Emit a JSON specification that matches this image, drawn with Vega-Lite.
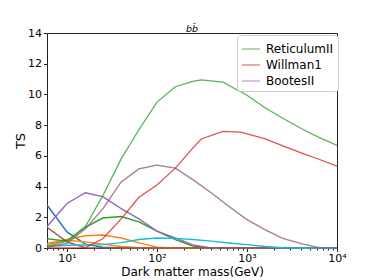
{
  "$schema": "https://vega.github.io/schema/vega-lite/v6.json",
  "autosize": {"type": "none"},
  "padding": {"left": 47, "top": 33, "right": 37, "bottom": 32},
  "width": 290,
  "height": 215,
  "title": {"text": "bb̄", "fontStyle": "italic", "fontWeight": "normal", "fontSize": 9.5, "font": "DejaVu Sans", "frame": "group", "offset": -2, "dy": 4, "color": "#000"},
  "datasets": {
    "curves": [
      {"s":"ReticulumII","m":6,"ts":0.1},{"s":"ReticulumII","m":10,"ts":0.45},{"s":"ReticulumII","m":16,"ts":1.4},{"s":"ReticulumII","m":25,"ts":3.4},{"s":"ReticulumII","m":40,"ts":5.8},{"s":"ReticulumII","m":63,"ts":7.7},{"s":"ReticulumII","m":100,"ts":9.5},{"s":"ReticulumII","m":160,"ts":10.5},{"s":"ReticulumII","m":250,"ts":10.85},{"s":"ReticulumII","m":310,"ts":10.95},{"s":"ReticulumII","m":540,"ts":10.8},{"s":"ReticulumII","m":1000,"ts":9.95},{"s":"ReticulumII","m":1600,"ts":9.12},{"s":"ReticulumII","m":2500,"ts":8.45},{"s":"ReticulumII","m":4000,"ts":7.78},{"s":"ReticulumII","m":6300,"ts":7.2},{"s":"ReticulumII","m":10000,"ts":6.68},
      {"s":"Willman1","m":6,"ts":0},{"s":"Willman1","m":10,"ts":0},{"s":"Willman1","m":16,"ts":0.02},{"s":"Willman1","m":25,"ts":0.6},{"s":"Willman1","m":40,"ts":1.9},{"s":"Willman1","m":63,"ts":3.3},{"s":"Willman1","m":100,"ts":4.1},{"s":"Willman1","m":160,"ts":5.2},{"s":"Willman1","m":250,"ts":6.5},{"s":"Willman1","m":310,"ts":7.1},{"s":"Willman1","m":540,"ts":7.6},{"s":"Willman1","m":850,"ts":7.55},{"s":"Willman1","m":1600,"ts":7.1},{"s":"Willman1","m":2500,"ts":6.65},{"s":"Willman1","m":4000,"ts":6.2},{"s":"Willman1","m":6300,"ts":5.78},{"s":"Willman1","m":10000,"ts":5.33},
      {"s":"BootesII","m":6,"ts":0.05},{"s":"BootesII","m":10,"ts":0.3},{"s":"BootesII","m":16,"ts":1.25},{"s":"BootesII","m":25,"ts":2.55},{"s":"BootesII","m":40,"ts":4.3},{"s":"BootesII","m":63,"ts":5.15},{"s":"BootesII","m":100,"ts":5.4},{"s":"BootesII","m":160,"ts":5.2},{"s":"BootesII","m":250,"ts":4.45},{"s":"BootesII","m":400,"ts":3.6},{"s":"BootesII","m":630,"ts":2.7},{"s":"BootesII","m":1000,"ts":1.85},{"s":"BootesII","m":1600,"ts":1.18},{"s":"BootesII","m":2500,"ts":0.63},{"s":"BootesII","m":4000,"ts":0.29},{"s":"BootesII","m":6300,"ts":0.02},{"s":"BootesII","m":10000,"ts":0},
      {"s":"B2","m":6,"ts":0.05},{"s":"B2","m":10,"ts":0.3},{"s":"B2","m":16,"ts":1.25},{"s":"B2","m":25,"ts":2.55},{"s":"B2","m":40,"ts":4.3},{"s":"B2","m":63,"ts":5.15},{"s":"B2","m":100,"ts":5.4},{"s":"B2","m":160,"ts":5.2},{"s":"B2","m":250,"ts":4.45},{"s":"B2","m":400,"ts":3.6},{"s":"B2","m":630,"ts":2.7},{"s":"B2","m":1000,"ts":1.85},{"s":"B2","m":1600,"ts":1.18},{"s":"B2","m":2500,"ts":0.63},{"s":"B2","m":4000,"ts":0.29},{"s":"B2","m":6300,"ts":0.02},{"s":"B2","m":10000,"ts":0},
      {"s":"blue","m":6,"ts":2.8},{"s":"blue","m":10,"ts":1.05},{"s":"blue","m":16,"ts":0.25},{"s":"blue","m":25,"ts":0.05},{"s":"blue","m":40,"ts":0},{"s":"blue","m":100,"ts":0},{"s":"blue","m":1000,"ts":0},{"s":"blue","m":10000,"ts":0},
      {"s":"orange1","m":6,"ts":0.3},{"s":"orange1","m":10,"ts":0.55},{"s":"orange1","m":16,"ts":0.8},{"s":"orange1","m":25,"ts":0.85},{"s":"orange1","m":40,"ts":0.65},{"s":"orange1","m":63,"ts":0.33},{"s":"orange1","m":100,"ts":0.06},{"s":"orange1","m":160,"ts":0},{"s":"orange1","m":1000,"ts":0},{"s":"orange1","m":10000,"ts":0},
      {"s":"orange2","m":6,"ts":0.22},{"s":"orange2","m":10,"ts":0.5},{"s":"orange2","m":16,"ts":0.4},{"s":"orange2","m":25,"ts":0.25},{"s":"orange2","m":40,"ts":0.1},{"s":"orange2","m":63,"ts":0.02},{"s":"orange2","m":100,"ts":0},{"s":"orange2","m":1000,"ts":0},{"s":"orange2","m":10000,"ts":0},
      {"s":"green2","m":6,"ts":0.6},{"s":"green2","m":10,"ts":0.45},{"s":"green2","m":16,"ts":1.35},{"s":"green2","m":25,"ts":1.95},{"s":"green2","m":40,"ts":2.05},{"s":"green2","m":63,"ts":1.7},{"s":"green2","m":100,"ts":1.1},{"s":"green2","m":160,"ts":0.55},{"s":"green2","m":250,"ts":0.12},{"s":"green2","m":400,"ts":0},{"s":"green2","m":1000,"ts":0},{"s":"green2","m":10000,"ts":0},
      {"s":"purple2","m":6,"ts":1.4},{"s":"purple2","m":10,"ts":2.9},{"s":"purple2","m":16,"ts":3.6},{"s":"purple2","m":25,"ts":3.35},{"s":"purple2","m":40,"ts":2.57},{"s":"purple2","m":63,"ts":1.9},{"s":"purple2","m":100,"ts":1.1},{"s":"purple2","m":160,"ts":0.65},{"s":"purple2","m":250,"ts":0.2},{"s":"purple2","m":400,"ts":0},{"s":"purple2","m":1000,"ts":0},{"s":"purple2","m":10000,"ts":0},
      {"s":"brown","m":6,"ts":1.35},{"s":"brown","m":10,"ts":0.4},{"s":"brown","m":16,"ts":0.02},{"s":"brown","m":25,"ts":0},{"s":"brown","m":100,"ts":0},{"s":"brown","m":1000,"ts":0},{"s":"brown","m":10000,"ts":0},
      {"s":"cyan","m":6,"ts":0.1},{"s":"cyan","m":10,"ts":0.18},{"s":"cyan","m":16,"ts":0.2},{"s":"cyan","m":25,"ts":0.22},{"s":"cyan","m":40,"ts":0.35},{"s":"cyan","m":63,"ts":0.55},{"s":"cyan","m":100,"ts":0.65},{"s":"cyan","m":160,"ts":0.63},{"s":"cyan","m":250,"ts":0.55},{"s":"cyan","m":400,"ts":0.45},{"s":"cyan","m":630,"ts":0.33},{"s":"cyan","m":1000,"ts":0.22},{"s":"cyan","m":1600,"ts":0.1},{"s":"cyan","m":2500,"ts":0.02},{"s":"cyan","m":4000,"ts":0},{"s":"cyan","m":10000,"ts":0}
    ]
  },
  "data": {"name": "curves"},
  "encoding": {
    "x": {
      "field": "m", "type": "quantitative",
      "scale": {"type": "log", "domain": [6, 10000], "nice": false},
      "axis": {
        "title": "Dark matter mass(GeV)",
        "values": [6,7,8,9,10,20,30,40,50,60,70,80,90,100,200,300,400,500,600,700,800,900,1000,2000,3000,4000,5000,6000,7000,8000,9000,10000],
        "labelExpr": "datum.value == 10 ? '10¹' : datum.value == 100 ? '10²' : datum.value == 1000 ? '10³' : datum.value == 10000 ? '10⁴' : ''",
        "tickSize": {"condition": {"test": "datum.value == 10 || datum.value == 100 || datum.value == 1000 || datum.value == 10000", "value": 3.5}, "value": 2},
        "labelFontSize": 11, "titleFontSize": 12, "labelPadding": 1, "titlePadding": 3,
        "grid": false, "domain": false, "labelFlush": false, "labelOverlap": false
      }
    },
    "y": {
      "field": "ts", "type": "quantitative",
      "scale": {"domain": [0, 14], "nice": false, "zero": true},
      "axis": {
        "title": "TS", "values": [0,2,4,6,8,10,12,14], "tickSize": 3.5,
        "labelFontSize": 11, "titleFontSize": 13, "labelPadding": 2, "titlePadding": 0,
        "grid": false, "domain": false
      }
    },
    "color": {
      "field": "s", "type": "nominal",
      "scale": {
        "domain": ["ReticulumII","Willman1","BootesII","B2","blue","orange1","orange2","green2","purple2","brown","cyan"],
        "range": ["#2ca02c","#d62728","#9467bd","#8c564b","#1f77b4","#ff7f0e","#ff7f0e","#2ca02c","#9467bd","#8c564b","#17becf"]
      },
      "legend": {
        "values": ["ReticulumII","Willman1","BootesII"],
        "title": null, "orient": "none", "legendX": 190, "legendY": 2,
        "symbolType": "stroke", "symbolSize": 324, "symbolStrokeWidth": 1.3, "symbolOpacity": 0.6,
        "labelFontSize": 12, "labelOffset": 5, "padding": 4, "rowPadding": -2.7,
        "fillColor": "white", "strokeColor": "#cccccc", "cornerRadius": 3
      }
    }
  },
  "layer": [
    {
      "transform": [{"filter": "indexof(['ReticulumII','Willman1','BootesII','B2'], datum.s) < 0"}],
      "mark": {"type": "line", "strokeWidth": 1.4}
    },
    {
      "transform": [{"filter": "datum.s == 'B2' || datum.s == 'BootesII'"}],
      "mark": {"type": "line", "strokeWidth": 1.3, "opacity": 0.5}
    },
    {
      "transform": [{"filter": "datum.s == 'ReticulumII' || datum.s == 'Willman1'"}],
      "mark": {"type": "line", "strokeWidth": 1.3, "opacity": 0.8}
    }
  ],
  "config": {
    "font": "DejaVu Sans",
    "view": {"stroke": "#222222", "strokeWidth": 1},
    "axis": {"labelColor": "#000000", "titleColor": "#000000", "tickColor": "#222222", "titleFontWeight": "normal"},
    "legend": {"labelColor": "#000000"}
  }
}
